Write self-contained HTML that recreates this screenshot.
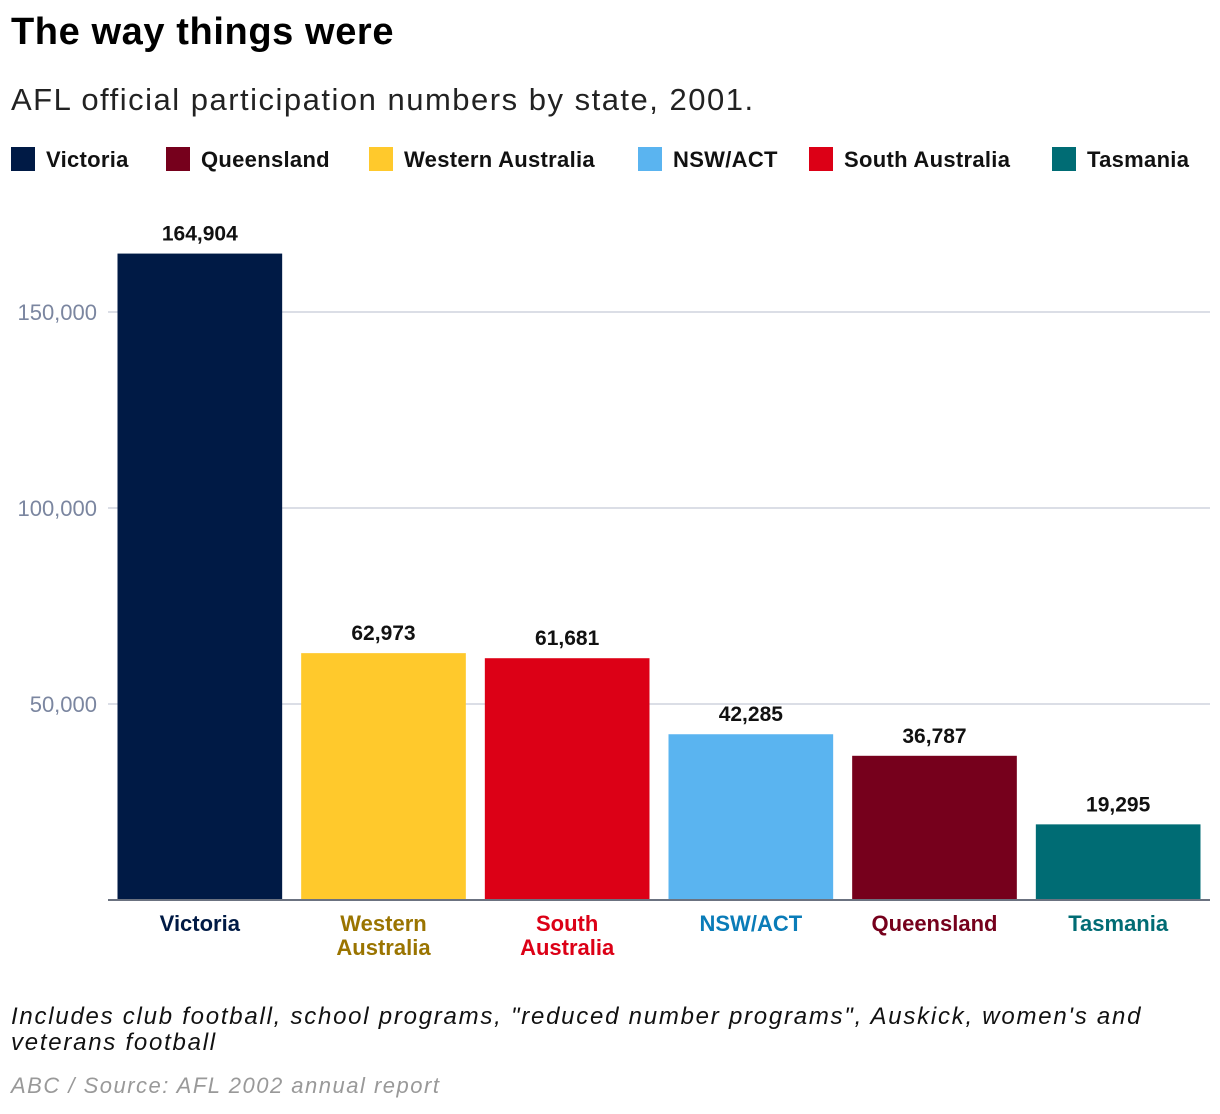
<!DOCTYPE html>
<html><head><meta charset="utf-8"><style>
body{margin:0;width:1220px;height:1114px;background:#fff;font-family:"Liberation Sans",sans-serif;position:relative;overflow:hidden}
.abs{position:absolute;white-space:nowrap}
.leg{position:absolute;top:147px;height:26px;font-size:22px;color:#111;font-weight:bold;line-height:26px;letter-spacing:0.3px}
.leg span{display:inline-block;width:24px;height:24px;vertical-align:-4px;margin-right:11px}
</style></head><body>
<div class="abs" style="left:11px;top:11px;font-size:38px;font-weight:bold;letter-spacing:0.6px">The way things were</div>
<div class="abs" style="left:11px;top:82px;font-size:31px;color:#222;letter-spacing:1.5px">AFL official participation numbers by state, 2001.</div>
<div class="leg" style="left:11px"><span style="background:#001a45"></span>Victoria</div>
<div class="leg" style="left:166px"><span style="background:#76001c"></span>Queensland</div>
<div class="leg" style="left:369px"><span style="background:#ffc92c"></span>Western Australia</div>
<div class="leg" style="left:638px"><span style="background:#5ab4f0"></span>NSW/ACT</div>
<div class="leg" style="left:809px"><span style="background:#dc0016"></span>South Australia</div>
<div class="leg" style="left:1052px"><span style="background:#006c74"></span>Tasmania</div>
<svg id="chart" width="1220" height="1114" style="position:absolute;left:0;top:0" font-family="Liberation Sans, sans-serif"></svg>
<div class="abs" style="left:11px;top:1004px;font-size:24px;font-style:italic;color:#111;line-height:26px;letter-spacing:1.75px">Includes club football, school programs, "reduced number programs", Auskick, women's and<br>veterans football</div>
<div class="abs" style="left:11px;top:1073px;font-size:22px;font-style:italic;color:#999;letter-spacing:1.5px">ABC / Source: AFL 2002 annual report</div>
<script>
const categories=["Victoria","Western Australia","South Australia","NSW/ACT","Queensland","Tasmania"];
const labelLines=[["Victoria"],["Western","Australia"],["South","Australia"],["NSW/ACT"],["Queensland"],["Tasmania"]];
const values=[164904,62973,61681,42285,36787,19295];
const valueLabels=["164,904","62,973","61,681","42,285","36,787","19,295"];
const barColors=["#001a45","#ffc92c","#dc0016","#5ab4f0","#76001c","#006c74"];
const labelColors=["#001a45","#9a7400","#dc0016","#0a7cb8","#76001c","#006c74"];
const ticks=[50000,100000,150000];
const tickLabels=["50,000","100,000","150,000"];
const svg=document.getElementById('chart');const NS="http://www.w3.org/2000/svg";
const x0=108,x1=1210,y0=900,pxPer=196/50000;
const y=v=>y0-v*pxPer;
const band=(x1-x0)/categories.length,pad=9.5;
function mk(t,a,txt){const e=document.createElementNS(NS,t);for(const k in a)e.setAttribute(k,a[k]);if(txt!==undefined)e.textContent=txt;svg.appendChild(e);return e;}
ticks.forEach((t,i)=>{
 const g=mk('line',{x1:x0,x2:x1,y1:y(t),y2:y(t),stroke:'#cfd3de','stroke-width':1.5});
 
 
 const l=mk('text',{x:97,y:y(t)+8,'text-anchor':'end','font-size':22,fill:'#7b86a0'},tickLabels[i]);
 
 
});
values.forEach((v,i)=>{
 const bx=x0+i*band+pad,bw=band-2*pad;
 const r=mk('rect',{x:bx,y:y(v),width:bw,height:y0-y(v),fill:barColors[i]});
 
 
 const t=mk('text',{x:bx+bw/2,y:y(v)-13,'text-anchor':'middle','font-size':21,'font-weight':'bold',fill:'#111'},valueLabels[i]);
 
 
 labelLines[i].forEach((ln,j)=>{
  const c=mk('text',{x:bx+bw/2,y:y0+31+j*24,'text-anchor':'middle','font-size':22,'font-weight':'bold',fill:labelColors[i]},ln);
  
  
 });
});
const ax=mk('line',{x1:x0,x2:x1,y1:y0,y2:y0,stroke:'#6b7280','stroke-width':2});


</script>
</body></html>
